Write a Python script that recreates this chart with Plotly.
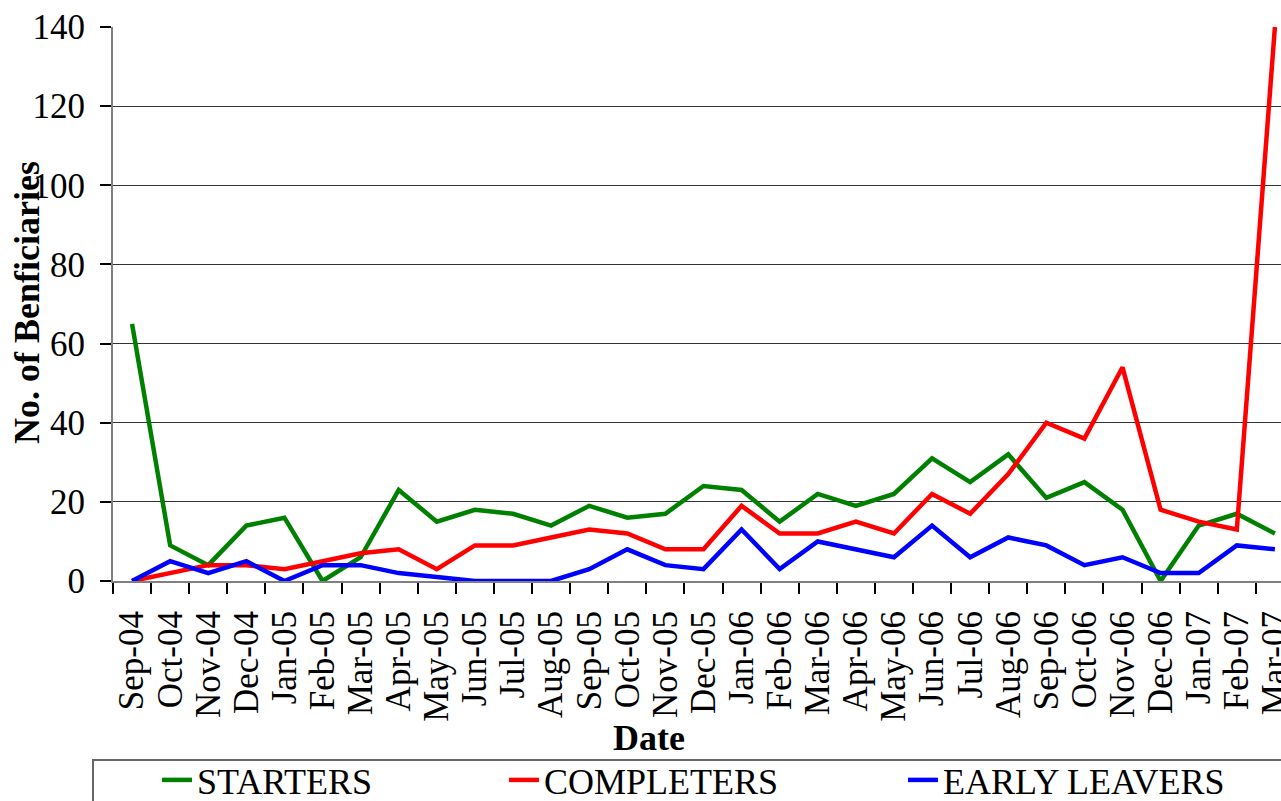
import plotly.graph_objects as go

months = ["Sep-04", "Oct-04", "Nov-04", "Dec-04", "Jan-05", "Feb-05", "Mar-05", "Apr-05",
          "May-05", "Jun-05", "Jul-05", "Aug-05", "Sep-05", "Oct-05", "Nov-05", "Dec-05",
          "Jan-06", "Feb-06", "Mar-06", "Apr-06", "May-06", "Jun-06", "Jul-06", "Aug-06",
          "Sep-06", "Oct-06", "Nov-06", "Dec-06", "Jan-07", "Feb-07", "Mar-07"]

starters = [65, 9, 4, 14, 16, 0, 6, 23, 15, 18, 17, 14, 19, 16, 17, 24,
            23, 15, 22, 19, 22, 31, 25, 32, 21, 25, 18, 0, 14, 17, 12]
completers = [0, 2, 4, 4, 3, 5, 7, 8, 3, 9, 9, 11, 13, 12, 8, 8,
              19, 12, 12, 15, 12, 22, 17, 27, 40, 36, 54, 18, 15, 13, 140]
early_leavers = [0, 5, 2, 5, 0, 4, 4, 2, 1, 0, 0, 0, 3, 8, 4, 3,
                 13, 3, 10, 8, 6, 14, 6, 11, 9, 4, 6, 2, 2, 9, 8]

y_ticks = [0, 20, 40, 60, 80, 100, 120, 140]

FONT = "Liberation Serif, Times New Roman, serif"
W, H = 1281, 801
L, T, B = 113, 27, 220
plot_w = W - L
plot_h = H - T - B

def px_x(px):
    return (px - L) / plot_w

def px_y(py):
    return (H - B - py) / plot_h

series = [("STARTERS", starters, "#008000", "legend", 157),
          ("COMPLETERS", completers, "#FF0000", "legend2", 504),
          ("EARLY LEAVERS", early_leavers, "#0000FF", "legend3", 903)]

fig = go.Figure()
for name, vals, col, lg, _ in series:
    fig.add_trace(go.Scatter(x=months, y=vals, name=name, mode="lines", legend=lg,
                             line=dict(color=col, width=4.5)))

legend_layout = {}
for name, vals, col, lg, lx in series:
    legend_layout[lg] = dict(orientation="h", x=px_x(lx), y=px_y(750), xanchor="left",
                             yanchor="top",
                             font=dict(family=FONT, size=36, color="black"),
                             bgcolor="rgba(0,0,0,0)", borderwidth=0)

fig.update_layout(
    width=W, height=H,
    margin=dict(l=L, r=0, t=T, b=B, autoexpand=False),
    paper_bgcolor="white", plot_bgcolor="white",
    font=dict(family=FONT, color="black"),
    showlegend=True,
    xaxis=dict(type="category", categoryorder="array", categoryarray=months,
               tickmode="array", tickvals=months, ticktext=months,
               range=[-0.5, 30.16], showgrid=False, zeroline=False, automargin=False,
               showline=True, linecolor="#808080", linewidth=2,
               ticks="outside", ticklen=11, tickcolor="black", tickwidth=1.5,
               tickson="boundaries", tickangle=-90, ticklabelstandoff=14,
               tickfont=dict(family=FONT, size=35, color="black")),
    yaxis=dict(range=[0, 140], tickvals=y_ticks, showgrid=True, gridcolor="#333333",
               gridwidth=1, zeroline=False, showline=True, linecolor="#808080", linewidth=2,
               ticks="outside", ticklen=11, tickcolor="black", tickwidth=1.5,
               ticklabelstandoff=8, automargin=False,
               tickfont=dict(family=FONT, size=35, color="black")),
    **legend_layout,
)

fig.add_annotation(text="<b>No. of Benficiaries</b>", textangle=-90, xref="paper", yref="paper",
                   x=px_x(27), y=px_y(303), showarrow=False, xanchor="center", yanchor="middle",
                   font=dict(family=FONT, size=36, color="black"))
fig.add_annotation(text="<b>Date</b>", xref="paper", yref="paper",
                   x=px_x(649), y=px_y(738), showarrow=False, xanchor="center", yanchor="middle",
                   font=dict(family=FONT, size=36, color="black"))

fig.add_shape(type="rect", xref="paper", yref="paper",
              x0=px_x(93), x1=px_x(1320), y0=px_y(840), y1=px_y(760),
              line=dict(color="#666666", width=2), fillcolor="rgba(0,0,0,0)", layer="below")

fig.write_html("out.html", config={"displayModeBar": False},
               post_script="document.body.style.margin='0';document.body.style.overflow='hidden';")
